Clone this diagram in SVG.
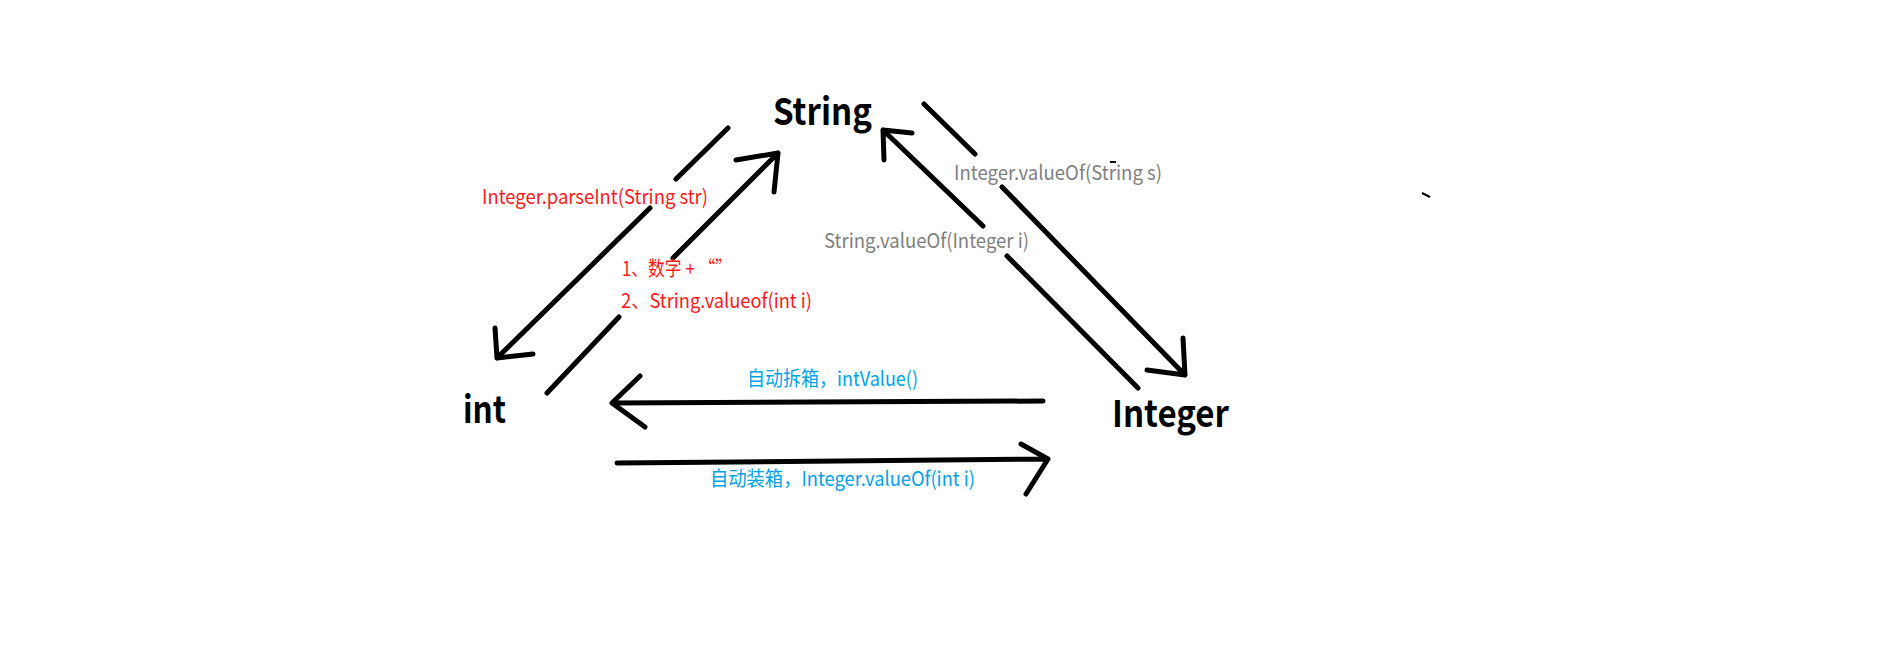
<svg xmlns="http://www.w3.org/2000/svg" width="1879" height="646" viewBox="0 0 1879 646">
<style>
.node{font-family:"Noto Sans CJK SC","Noto Sans",sans-serif;font-weight:bold;font-size:37px;fill:#000}
.lbl{font-family:"Noto Sans CJK SC","Noto Sans",sans-serif;font-size:20px}
.red{fill:#ff1a1a}
.grey{fill:#7f7f7f}
.blue{fill:#00a2e8}
.ln{stroke:#000;stroke-width:5;stroke-linecap:round;stroke-linejoin:round;fill:none}
.dot{stroke:#000;stroke-width:2;fill:none}
</style>
<rect width="1879" height="646" fill="#fff"/>
<g id="node-String"><text class="node" x="773" y="125" textLength="99" lengthAdjust="spacingAndGlyphs">String</text></g>
<g id="node-int"><text class="node" x="463" y="423" textLength="43" lengthAdjust="spacingAndGlyphs">int</text></g>
<g id="node-Integer"><text class="node" x="1112" y="427" textLength="117" lengthAdjust="spacingAndGlyphs">Integer</text></g>
<g id="connectors">
  <g id="edge-String-int">
    <path class="ln" d="M728,128 L676,179 M650,208 L497,358 M495,328 L497,358 L533,354"/>
    <text class="lbl red" x="482" y="204" textLength="226" lengthAdjust="spacingAndGlyphs">Integer.parseInt(String str)</text>
  </g>
  <g id="edge-int-String">
    <path class="ln" d="M547,393 L619,317 M673,258 L778,153 M736,160 L778,153 L774,192"/>
    <text class="lbl red" x="622" y="276" textLength="110" lengthAdjust="spacingAndGlyphs">1、数字 +  “”</text>
    <text class="lbl red" x="621" y="308" textLength="191" lengthAdjust="spacingAndGlyphs">2、String.valueof(int i)</text>
  </g>
  <g id="edge-Integer-String">
    <path class="ln" d="M1138,388 L1007,256 M983,226 L883,130 M912,133 L883,130 L884,160"/>
    <text class="lbl grey" x="824" y="248" textLength="205" lengthAdjust="spacingAndGlyphs">String.valueOf(Integer i)</text>
  </g>
  <g id="edge-String-Integer">
    <path class="ln" d="M924,104 L975,154 M1002,187 L1185,375 M1183,338 L1185,375 L1147,370"/>
    <text class="lbl grey" x="954" y="180" textLength="208" lengthAdjust="spacingAndGlyphs">Integer.valueOf(String s)</text>
  </g>
  <g id="edge-Integer-int">
    <path class="ln" d="M1043,401 L612,403 M640,376 L612,403 L645,427"/>
    <text class="lbl blue" x="747" y="386" textLength="171" lengthAdjust="spacingAndGlyphs">自动拆箱，intValue()</text>
  </g>
  <g id="edge-int-Integer">
    <path class="ln" d="M617,463 L1048,459 M1021,444 L1048,459 L1026,494"/>
    <text class="lbl blue" x="710" y="486" textLength="265" lengthAdjust="spacingAndGlyphs">自动装箱，Integer.valueOf(int i)</text>
  </g>
</g>
<path class="dot" d="M1110,162 L1116,162 M1422,193 L1430,197"/>
</svg>
